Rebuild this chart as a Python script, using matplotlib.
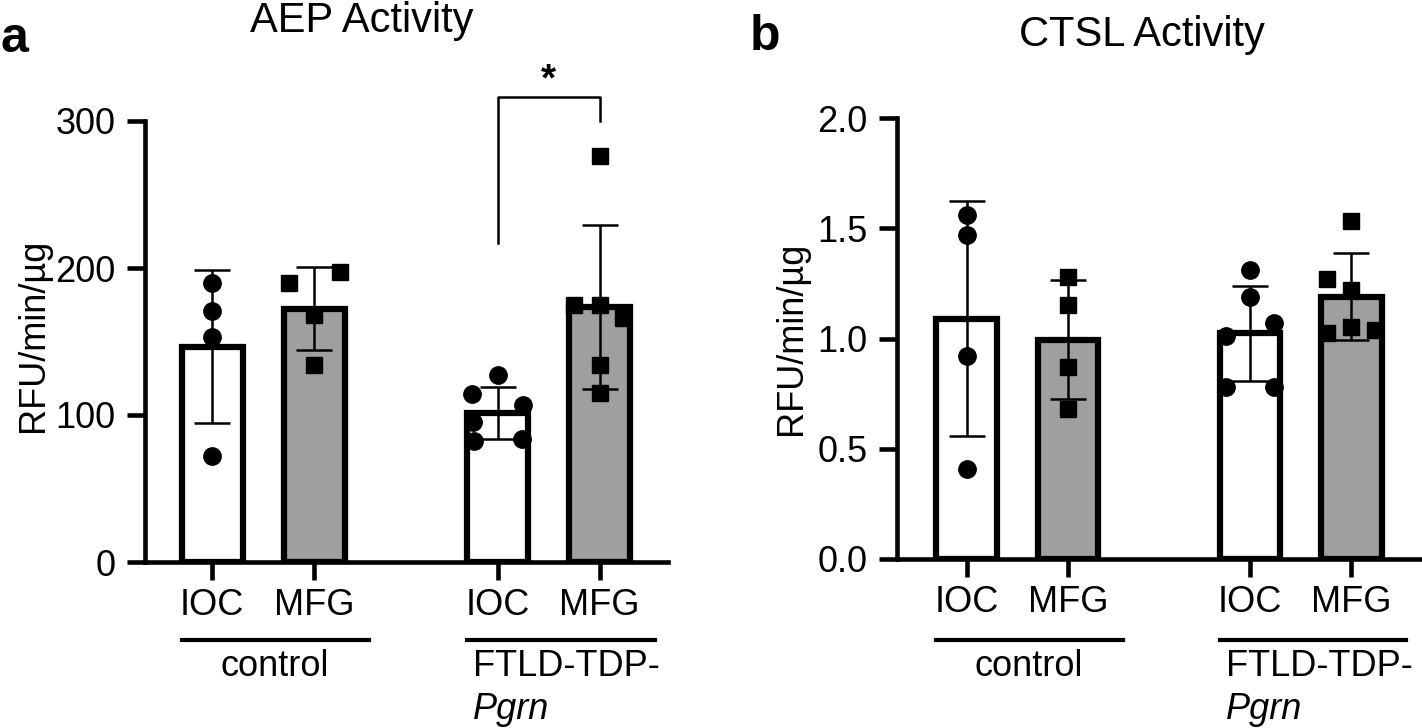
import numpy as np
import matplotlib
matplotlib.use("Agg")
import matplotlib.pyplot as plt
from matplotlib.transforms import blended_transform_factory

plt.rcParams['font.family'] = ['Liberation Sans', 'DejaVu Sans']

# data
tick_labels = ["IOC", "MFG", "IOC", "MFG"]
groups = ["control", "FTLD-TDP-"]

aep_ctrl_ioc = [190, 171, 153, 72]
aep_ctrl_mfg = [197, 190, 168, 134]
aep_ftld_ioc = [127, 114, 107, 95, 84, 82]
aep_ftld_mfg = [276, 175, 175, 166, 134, 115]

ctsl_ctrl_ioc = [1.56, 1.47, 0.92, 0.41]
ctsl_ctrl_mfg = [1.28, 1.15, 0.87, 0.68]
ctsl_ftld_ioc = [1.31, 1.19, 1.07, 1.01, 0.78, 0.78]
ctsl_ftld_mfg = [1.535, 1.27, 1.22, 1.05, 1.025, 1.04]

# point spread (layout only)
aep_jit = [[0, 0, 0, 0],
           [0.25, -0.25, 0, 0],
           [0, -0.25, 0.25, -0.24, 0.24, -0.23],
           [0, -0.25, 0, 0.23, 0, 0]]
ctsl_jit = [[0, 0, 0, 0],
            [0, 0, 0, 0],
            [0, 0, 0.24, -0.24, -0.24, 0.24],
            [0, -0.24, 0, 0, -0.24, 0.24]]

W, H = 1422, 728
pos = np.array([0, 1, 2.8, 3.8])
grey = "#9f9f9f"
fills = ["white", grey, "white", grey]
marks = ["o", "s", "o", "s"]
FS = 26


def panel(ax, sets, jit, ylim, yticks, yfmt, xlim):
    means = [np.mean(s) for s in sets]
    sds = [np.std(s, ddof=1) for s in sets]
    ax.bar(pos, means, width=0.6, color=fills, edgecolor="black",
           linewidth=4.5, zorder=1)
    for i, s in enumerate(sets):
        ms = 12.5 if marks[i] == "o" else 11.5
        ax.plot(pos[i] + np.array(jit[i]), s, ls="none", marker=marks[i],
                color="black", ms=ms, zorder=3, clip_on=False)
    ax.errorbar(pos, means, yerr=sds, fmt="none", ecolor="black",
                elinewidth=1.8, capsize=13, capthick=1.8, zorder=4)
    ax.set_ylim(*ylim)
    ax.set_xlim(*xlim)
    ax.set_yticks(yticks)
    ax.set_yticklabels([yfmt.format(v) for v in yticks])
    ax.set_xticks(pos)
    ax.set_xticklabels(tick_labels)
    for sp in ["top", "right"]:
        ax.spines[sp].set_visible(False)
    for sp in ["left", "bottom"]:
        ax.spines[sp].set_linewidth(3.3)
    ax.tick_params(axis="both", width=3.3, length=13, labelsize=FS)
    ax.tick_params(axis="y", pad=8)
    ax.tick_params(axis="x", pad=6)
    ax.set_ylabel("RFU/min/µg", fontsize=FS, va="center")

    tr = blended_transform_factory(ax.transData, fig.transFigure)
    for g in [0, 2.8]:
        ax.plot([g - 0.3, g + 1.54], [1 - 640 / H] * 2, color="black",
                lw=3.0, transform=tr, clip_on=False)
    ax.text(0.61, 1 - 676 / H, groups[0], fontsize=FS, ha="center",
            va="baseline", transform=tr)
    ax.text(2.8 - 0.24, 1 - 676 / H, groups[1], fontsize=FS, ha="left",
            va="baseline", transform=tr)
    ax.text(2.8 - 0.24, 1 - 719 / H, "Pgrn", fontsize=FS, ha="left",
            va="baseline", style="italic", transform=tr)


fig = plt.figure(figsize=(W / 100, H / 100), dpi=100)

ax1 = fig.add_axes([145 / W, 1 - 562 / H, 523 / W, 441 / H])
panel(ax1, [aep_ctrl_ioc, aep_ctrl_mfg, aep_ftld_ioc, aep_ftld_mfg],
      aep_jit, (0, 300), [0, 100, 200, 300], "{:.0f}", (-0.66, 4.47))
ax1.yaxis.set_label_coords(-0.214, 0.515)

# significance bracket
ax1.plot([pos[2], pos[2], pos[3], pos[3]], [217, 316, 316, 300],
         color="black", lw=1.8, clip_on=False)
ax1.text((pos[2] + pos[3]) / 2, 315, "*", fontsize=28, fontweight="bold",
         ha="center", va="bottom", clip_on=False)

ax2 = fig.add_axes([897 / W, 1 - 559 / H, 525 / W, 441 / H])
panel(ax2, [ctsl_ctrl_ioc, ctsl_ctrl_mfg, ctsl_ftld_ioc, ctsl_ftld_mfg],
      ctsl_jit, (0, 2.0), [0, 0.5, 1.0, 1.5, 2.0], "{:.1f}", (-0.69, 4.5))
ax2.yaxis.set_label_coords(-0.2, 0.5)

fig.text(362 / W, 1 - 32 / H, "AEP Activity", fontsize=30, ha="center",
         va="baseline")
fig.text(1142 / W, 1 - 46 / H, "CTSL Activity", fontsize=30, ha="center",
         va="baseline")
fig.text(0 / W, 1 - 52 / H, "a", fontsize=36, fontweight="bold",
         ha="left", va="baseline")
fig.text(750 / W, 1 - 50 / H, "b", fontsize=36, fontweight="bold",
         ha="left", va="baseline")

fig.savefig("out.png", dpi=100)
